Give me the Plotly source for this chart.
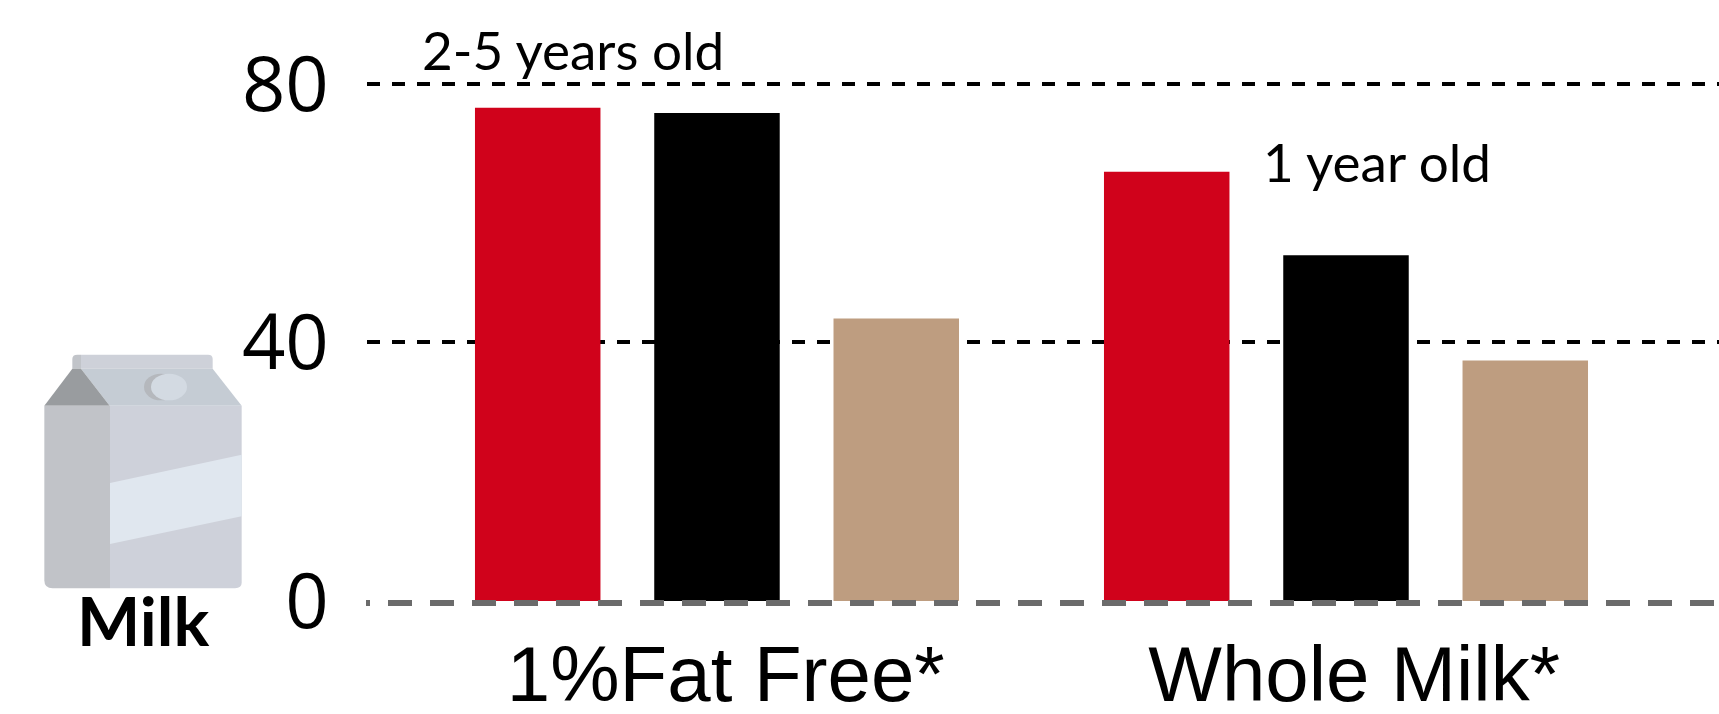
import plotly.graph_objects as go

group_positions = [0, 1]
tick_positions = [0.014, 1.013]
tick_labels = ["1%Fat Free*", "Whole Milk*"]
red_values = [76.3, 66.4]
black_values = [75.5, 53.5]
tan_values = [43.7, 37.2]
y_ticks = [0, 40, 80]

W, H = 1719, 714
L, T, B = 367, 40, 601.5
Y80 = 84

def px(x):
    return (x - L) / (W - L)

def py(y):
    return 1 - (y - T) / (B - T)

def zx(v):
    return px(v / 3)

def zy(v):
    return py(320 + v / 3)

def path(cmds):
    out = []
    for c in cmds:
        if len(c) == 1:
            out.append(c[0])
        else:
            op = c[0]
            pts = c[1:]
            out.append(op + " " + " ".join(f"{zx(pts[i]):.5f},{zy(pts[i+1]):.5f}" for i in range(0, len(pts), 2)))
    return " ".join(out)

def ellipse(cx, cy, rx, ry, color):
    return dict(type="circle", xref="paper", yref="paper", x0=zx(cx - rx), x1=zx(cx + rx),
                y0=zy(cy + ry), y1=zy(cy - ry), fillcolor=color, line_width=0, layer="above")

def poly(cmds, color):
    return dict(type="path", xref="paper", yref="paper", path=path(cmds), fillcolor=color,
                line_width=0, layer="above")

carton = [
    poly([("M", 217, 147), ("L", 217, 118), ("Q", 217, 105, 232, 105), ("L", 243, 105), ("L", 243, 147), ("Z",)], "#c1c4c9"),
    poly([("M", 243, 147), ("L", 243, 105), ("L", 624, 105), ("Q", 638, 105, 638, 118), ("L", 638, 147), ("Z",)], "#ced1d9"),
    poly([("M", 243, 147), ("L", 638, 147), ("L", 725, 258), ("L", 329, 258), ("Z",)], "#c5ccd4"),
    poly([("M", 217, 147), ("L", 243, 147), ("L", 329, 258), ("L", 133, 258), ("Z",)], "#999c9f"),
    poly([("M", 133, 258), ("L", 330, 258), ("L", 330, 806), ("L", 158, 806), ("Q", 133, 806, 133, 782), ("Z",)], "#c1c3c8"),
    poly([("M", 330, 258), ("L", 725, 258), ("L", 725, 790), ("Q", 725, 806, 705, 806), ("L", 330, 806), ("Z",)], "#ced1da"),
    poly([("M", 330, 490), ("L", 725, 405), ("L", 725, 590), ("L", 330, 673), ("Z",)], "#e0e7ef"),
    ellipse(482, 202, 50, 40, "#b5b8bd"),
    ellipse(507, 202, 54, 40, "#d3dae2"),
]

zero_dash = "4px,18px," + ",".join(["24px,18px"] * 34)
zero_line = dict(type="line", xref="paper", yref="paper", x0=px(366), x1=1, y0=py(603.5), y1=py(603.5),
                 line=dict(color="#6b6b6b", width=6, dash=zero_dash), layer="above")

fig = go.Figure()
for name, vals, color in [("Red", red_values, "#d0021b"), ("Black", black_values, "#000000"), ("Tan", tan_values, "#be9d80")]:
    fig.add_trace(go.Bar(x=group_positions, y=vals, name=name, marker=dict(color=color, line_width=0)))

def note(text, x, y, size, family, weight="normal"):
    return dict(text=text, xref="paper", yref="paper", x=px(x), y=py(y), xanchor="left", yanchor="bottom",
                showarrow=False, font=dict(size=size, family=family, color="#000000", weight=weight),
                borderpad=0, borderwidth=0)

fig.update_layout(
    width=W, height=H, barmode="group", bargap=0.145, bargroupgap=0.3, showlegend=False,
    paper_bgcolor="white", plot_bgcolor="white",
    margin=dict(l=L, r=0, t=T, b=H - B, pad=0, autoexpand=False),
    xaxis=dict(range=[-0.5564, 1.5930], tickmode="array", tickvals=tick_positions, ticktext=tick_labels,
               automargin=False,
               ticks="outside", tickcolor="rgba(0,0,0,0)", ticklen=5, showgrid=False, zeroline=False, showline=False,
               tickfont=dict(size=78, family="Liberation Sans", color="#000000")),
    yaxis=dict(range=[0, (B - T) * 80 / (B - Y80)], tickmode="array", tickvals=y_ticks, ticktext=[str(v) for v in y_ticks],
               automargin=False,
               ticks="outside", tickcolor="rgba(0,0,0,0)", ticklen=22, showgrid=True, gridcolor="#000000", gridwidth=3.5,
               griddash="13px,12px", zeroline=False, showline=False,
               tickfont=dict(size=76, family="Open Sans", color="#000000")),
    shapes=carton + [zero_line],
    annotations=[
        note("2-5 years old", 422, 81, 53, "Lato"),
        note("1 year old", 1263, 193, 53, "Lato"),
        note("Milk", 77, 661, 67, "Lato", "bold"),
    ],
)
fig.write_html("out.html", config={"displayModeBar": False},
               post_script="document.body.style.margin='0';document.documentElement.style.overflow='hidden';")
